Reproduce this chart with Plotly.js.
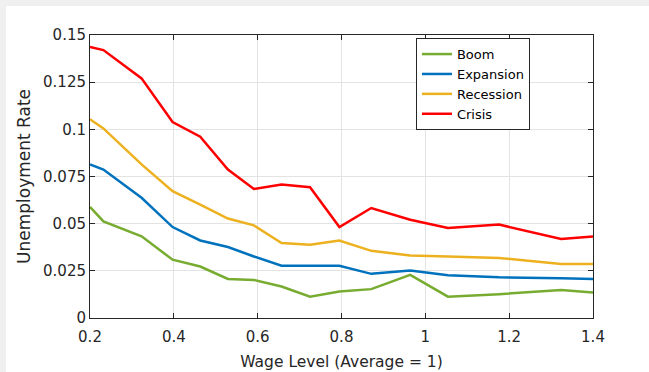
<!DOCTYPE html>
<html>
<head>
<meta charset="utf-8">
<script src="https://cdn.plot.ly/plotly-3.0.1.min.js"></script>
<style>
html,body{margin:0;padding:0;background:#f0f0f0;width:649px;height:372px;overflow:hidden;}
#chart{position:absolute;left:6px;top:6px;width:643px;height:366px;background:#fff;}
</style>
</head>
<body>
<div id="chart"></div>
<script>
const wage = [0.2, 0.232, 0.323, 0.397, 0.463, 0.529, 0.591, 0.657, 0.725, 0.795, 0.871, 0.964, 1.054, 1.176, 1.324, 1.4];
const boom = [0.0589, 0.0512, 0.0433, 0.0309, 0.0273, 0.0207, 0.0202, 0.0167, 0.0113, 0.0140, 0.0153, 0.0229, 0.0113, 0.0126, 0.0149, 0.0135];
const expansion = [0.0814, 0.0787, 0.0637, 0.0482, 0.0411, 0.0376, 0.0326, 0.0277, 0.0277, 0.0277, 0.0234, 0.0252, 0.0227, 0.0216, 0.0211, 0.0207];
const recession = [0.1053, 0.1005, 0.0814, 0.0672, 0.0601, 0.0527, 0.0491, 0.0397, 0.0388, 0.0411, 0.0356, 0.0331, 0.0326, 0.0318, 0.0286, 0.0286];
const crisis = [0.1436, 0.1420, 0.1270, 0.1039, 0.0961, 0.0787, 0.0684, 0.0707, 0.0693, 0.0482, 0.0583, 0.0521, 0.0477, 0.0495, 0.0419, 0.0432];
const seriesNames = ['Boom', 'Expansion', 'Recession', 'Crisis'];
const seriesColors = ['#77AC30', '#0072BD', '#EDB120', '#FF0000'];
const xTicks = [0.2, 0.4, 0.6, 0.8, 1, 1.2, 1.4];
const xTickText = ['0.2', '0.4', '0.6', '0.8', '1', '1.2', '1.4'];
const yTicks = [0, 0.025, 0.05, 0.075, 0.1, 0.125, 0.15];
const yTickText = ['0', '0.025', '0.05', '0.075', '0.1', '0.125', '0.15'];

const allY = [boom, expansion, recession, crisis];
const traces = allY.map((y, i) => ({
  x: wage, y: y, type: 'scatter', mode: 'lines', name: seriesNames[i],
  line: {color: seriesColors[i], width: 2.5}
}));

const FONT = 'DejaVu Sans, Verdana, sans-serif';
const axisCommon = {
  showline: true, linecolor: '#262626', linewidth: 1, mirror: 'allticks',
  ticks: 'inside', ticklen: 5, tickcolor: '#262626', tickwidth: 1,
  showgrid: true, gridcolor: '#e3e3e3', gridwidth: 1, zeroline: false,
  automargin: false,
  tickfont: {family: FONT, size: 15, color: '#262626'}
};

const layout = {
  width: 643, height: 366,
  margin: {l: 84, r: 56, t: 29, b: 54},
  paper_bgcolor: '#ffffff', plot_bgcolor: '#ffffff',
  showlegend: true,
  font: {family: FONT, color: '#262626'},
  xaxis: Object.assign({}, axisCommon, {
    range: [0.2, 1.4], tickvals: xTicks, ticktext: xTickText,
    ticklabelstandoff: 5,
    title: {text: 'Wage Level (Average = 1)', font: {family: FONT, size: 15.5, color: '#262626'}, standoff: 11}
  }),
  yaxis: Object.assign({}, axisCommon, {
    range: [0, 0.15], tickvals: yTicks, ticktext: yTickText,
    title: {text: 'Unemployment Rate', font: {family: FONT, size: 17, color: '#262626'}, standoff: 8}
  }),
  legend: {
    x: 0.648, y: 0.989, xanchor: 'left', yanchor: 'top',
    bgcolor: '#ffffff', bordercolor: '#262626', borderwidth: 1,
    font: {family: FONT, size: 13, color: '#000000'}, tracegroupgap: 0, itemwidth: 30
  }
};

Plotly.newPlot('chart', traces, layout, {displayModeBar: false, staticPlot: true});
</script>
</body>
</html>
